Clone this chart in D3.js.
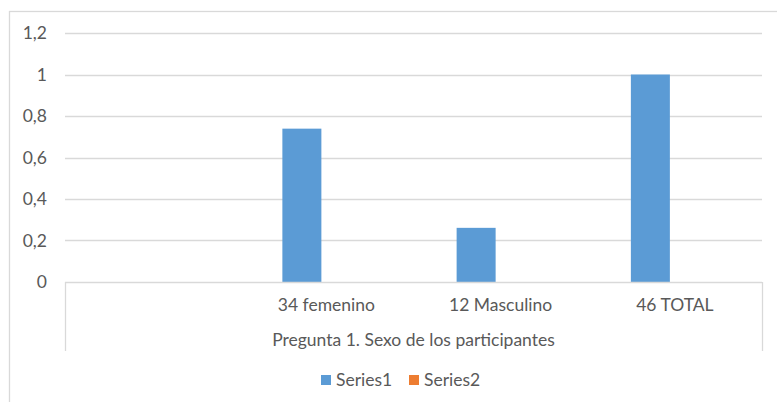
<!DOCTYPE html>
<html>
<head>
<meta charset="utf-8">
<script src="https://cdn.jsdelivr.net/npm/d3@7"></script>
<style>
  html, body { margin: 0; padding: 0; background: #fff; }
  svg { display: block; }
  text { font-family: Lato, "Open Sans", sans-serif; fill: #595959; font-size: 17.5px; }
</style>
</head>
<body>
<svg id="chart" width="777" height="402"></svg>
<script>
// Chart data
const categories = ["", "34 femenino", "12 Masculino", "46 TOTAL"];
const groupLabel = "Pregunta 1. Sexo de los participantes";
const seriesNames = ["Series1", "Series2"];
const series1 = [null, 0.739, 0.261, 1];
const series2 = [null, null, null, null];
const yTicks = [0, 0.2, 0.4, 0.6, 0.8, 1, 1.2];
const seriesColors = ["#5B9BD5", "#ED7D31"];

const svg = d3.select("#chart");

// Chart area frame
svg.append("rect")
  .attr("x", 9.5).attr("y", 11.5)
  .attr("width", 820).attr("height", 420)
  .attr("fill", "#fff").attr("stroke", "#D9D9D9").attr("stroke-width", 1.3);

const plot = { left: 65, right: 762, top: 33, bottom: 282 };

const y = d3.scaleLinear().domain([0, 1.2]).range([plot.bottom, plot.top]);
const x0 = d3.scaleBand().domain(d3.range(categories.length))
  .range([plot.left, plot.right]).paddingInner(0).paddingOuter(0);
const x1 = d3.scaleBand().domain(seriesNames)
  .range([0, x0.bandwidth()]).paddingInner(0.204).paddingOuter(0.88);

// Horizontal gridlines
svg.append("g").selectAll("line").data(yTicks.filter(t => t > 0)).join("line")
  .attr("x1", plot.left).attr("x2", plot.right)
  .attr("y1", d => Math.round(y(d)) + 0.5).attr("y2", d => Math.round(y(d)) + 0.5)
  .attr("stroke", "#D9D9D9").attr("stroke-width", 1.3);

// Value axis labels
const fmt = d => String(d).replace(".", ",");
svg.append("g").selectAll("text").data(yTicks).join("text")
  .attr("x", 47).attr("y", d => y(d))
  .attr("dy", "0.35em").attr("text-anchor", "end")
  .text(fmt);

// Bars
const seriesData = [series1, series2];
const bars = svg.append("g");
seriesData.forEach((vals, si) => {
  bars.selectAll(null).data(vals.map((v, i) => ({ v, i })).filter(d => d.v != null))
    .join("rect")
    .attr("x", d => x0(d.i) + x1(seriesNames[si]))
    .attr("width", x1.bandwidth())
    .attr("y", d => y(d.v))
    .attr("height", d => y(0) - y(d.v))
    .attr("fill", seriesColors[si]);
});

// Category axis line and group dividers
const axisG = svg.append("g").attr("stroke", "#D9D9D9").attr("stroke-width", 1.3);
axisG.append("line")
  .attr("x1", plot.left).attr("x2", plot.right)
  .attr("y1", plot.bottom + 0.5).attr("y2", plot.bottom + 0.5);
[plot.left, plot.right].forEach(xp => {
  axisG.append("line")
    .attr("x1", xp + 0.5).attr("x2", xp + 0.5)
    .attr("y1", plot.bottom).attr("y2", 351);
});

// Category labels
svg.append("g").selectAll("text").data(categories).join("text")
  .attr("x", (d, i) => x0(i) + x0.bandwidth() / 2)
  .attr("y", 305).attr("dy", "0.35em").attr("text-anchor", "middle")
  .text(d => d);

// Group label
svg.append("text")
  .attr("x", (plot.left + plot.right) / 2).attr("y", 340)
  .attr("dy", "0.35em").attr("text-anchor", "middle")
  .text(groupLabel);

// Legend
const legend = svg.append("g");
const legendItems = [{ name: seriesNames[0], x: 321 }, { name: seriesNames[1], x: 409 }];
legendItems.forEach((it, i) => {
  legend.append("rect")
    .attr("x", it.x).attr("y", 375).attr("width", 10).attr("height", 10)
    .attr("fill", seriesColors[i]);
  legend.append("text")
    .attr("x", it.x + 15).attr("y", 380).attr("dy", "0.35em")
    .text(it.name);
});
</script>
</body>
</html>
